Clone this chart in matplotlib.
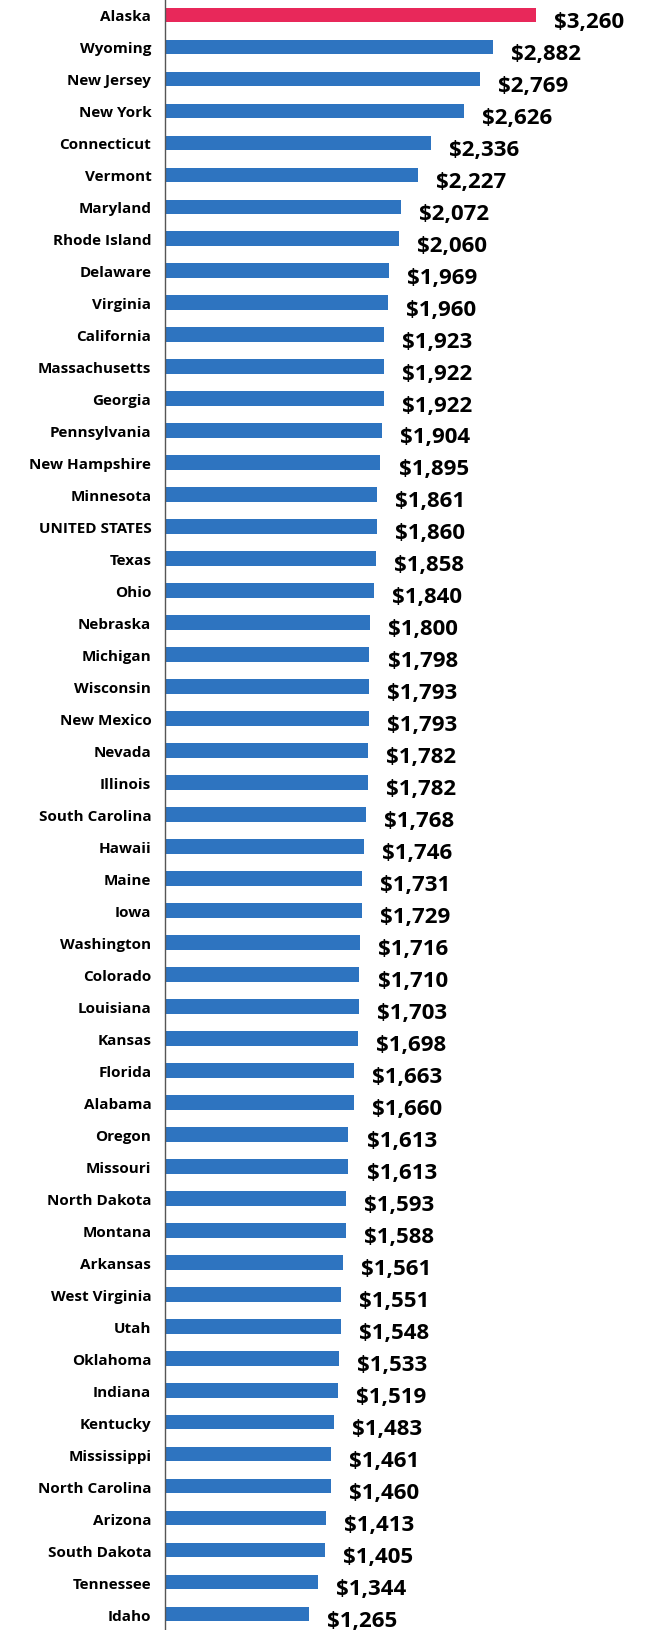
import matplotlib.pyplot as plt
import numpy as np

states = ["Alaska", "Wyoming", "New Jersey", "New York", "Connecticut", "Vermont",
          "Maryland", "Rhode Island", "Delaware", "Virginia", "California",
          "Massachusetts", "Georgia", "Pennsylvania", "New Hampshire", "Minnesota",
          "UNITED STATES", "Texas", "Ohio", "Nebraska", "Michigan", "Wisconsin",
          "New Mexico", "Nevada", "Illinois", "South Carolina", "Hawaii", "Maine",
          "Iowa", "Washington", "Colorado", "Louisiana", "Kansas", "Florida",
          "Alabama", "Oregon", "Missouri", "North Dakota", "Montana", "Arkansas",
          "West Virginia", "Utah", "Oklahoma", "Indiana", "Kentucky", "Mississippi",
          "North Carolina", "Arizona", "South Dakota", "Tennessee", "Idaho"]
values = [3260, 2882, 2769, 2626, 2336, 2227, 2072, 2060, 1969, 1960, 1923,
          1922, 1922, 1904, 1895, 1861, 1860, 1858, 1840, 1800, 1798, 1793,
          1793, 1782, 1782, 1768, 1746, 1731, 1729, 1716, 1710, 1703, 1698,
          1663, 1660, 1613, 1613, 1593, 1588, 1561, 1551, 1548, 1533, 1519,
          1483, 1461, 1460, 1413, 1405, 1344, 1265]
highlight = "Alaska"

blue = "#2e74c0"
red = "#e8285a"
colors = [red if s == highlight else blue for s in states]

fig = plt.figure(figsize=(6.48, 16.31), dpi=100)
ax = fig.add_axes([0.255, 0.0, 0.745, 1.0])

y = np.arange(len(states))
ax.barh(y, values, height=0.46, color=colors)
ax.set_ylim(len(states) - 0.5, -0.5)
ax.set_xlim(0, 4250)

ax.set_yticks(y, labels=states)
ax.tick_params(axis="y", length=0, pad=10, labelsize=11)
for lab in ax.get_yticklabels():
    lab.set_fontfamily("Open Sans")
    lab.set_fontweight("bold")
ax.set_xticks([])

for yi, v in zip(y, values):
    ax.annotate(f"${v:,}", xy=(v, yi), xytext=(13, -4.5), textcoords="offset points",
                ha="left", va="center", fontsize=16, fontweight="bold",
                fontfamily="Open Sans", color="black")

for side in ["top", "right", "bottom"]:
    ax.spines[side].set_visible(False)
ax.spines["left"].set_color("#555555")
ax.spines["left"].set_linewidth(1.0)

fig.savefig("out.png", dpi=100)
